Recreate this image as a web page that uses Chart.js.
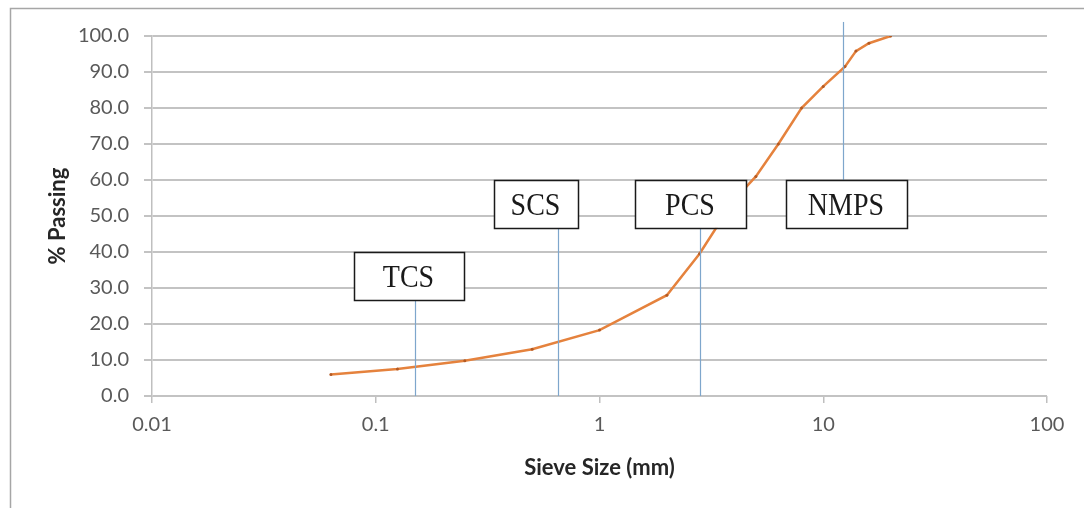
<!DOCTYPE html>
<html>
<head>
<meta charset="utf-8">
<script src="https://cdn.jsdelivr.net/npm/chart.js@4.4.1/dist/chart.umd.min.js"></script>
<style>
html,body{margin:0;padding:0;background:#fff;}
#wrap{width:1084px;height:508px;position:relative;}
</style>
</head>
<body>
<div id="wrap"><canvas id="c" width="1084" height="508"></canvas></div>
<script>
// ---- data ----
const sieveSizes = [0.063, 0.125, 0.25, 0.5, 1, 2, 2.8, 4, 5, 6.3, 8, 10, 12.5, 14, 16, 20];
const percentPassing = [6.0, 7.5, 9.8, 13.0, 18.3, 28.0, 39.5, 54.5, 61.0, 70.0, 80.0, 86.0, 91.5, 95.8, 98.0, 100.0];
const xTickValues = [0.01, 0.1, 1, 10, 100];
const xTickLabels = ['0.01', '0.1', '1', '10', '100'];
const markerLabels = ['TCS', 'SCS', 'PCS', 'NMPS'];
const markerSizes = [0.15, 0.65, 2.8, 12.3];

// box styling (pixel offsets / widths, value-space top & bottom)
const boxStyle = [
  {dx: -7, w: 110, top: 40.0, bottom: 26.7, lineFrom: 'box', lineTo: 'axis'},
  {dx: -23, w: 84, top: 60.0, bottom: 46.7, lineFrom: 'box', lineTo: 'axis'},
  {dx: -10.5, w: 111, top: 60.0, bottom: 46.7, lineFrom: 'box', lineTo: 'axis'},
  {dx: 2.5, w: 121, top: 60.0, bottom: 46.7, lineFrom: 'top', lineTo: 'box'}
];

const points = sieveSizes.map((s, i) => ({x: s, y: percentPassing[i]}));

const overlay = {
  id: 'overlay',
  afterDraw(chart) {
    const ctx = chart.ctx;
    const xs = chart.scales.x, ys = chart.scales.y;
    ctx.save();
    // outer frame
    ctx.strokeStyle = '#a6a6a6';
    ctx.lineWidth = 1.5;
    ctx.beginPath();
    ctx.moveTo(10.5, 508); ctx.lineTo(10.5, 8.5); ctx.lineTo(1084, 8.5);
    ctx.stroke();
    // marker lines and boxes
    markerLabels.forEach((lab, i) => {
      const st = boxStyle[i];
      const px = Math.round(xs.getPixelForValue(markerSizes[i])) + 0.5;
      const bt = ys.getPixelForValue(st.top);
      const bb = ys.getPixelForValue(st.bottom);
      const axisY = ys.getPixelForValue(0);
      ctx.strokeStyle = '#7ea6cc';
      ctx.lineWidth = 1.2;
      ctx.beginPath();
      if (st.lineTo === 'axis') { ctx.moveTo(px, bb); ctx.lineTo(px, axisY); }
      else { ctx.moveTo(px, ys.getPixelForValue(103.9)); ctx.lineTo(px, bt); }
      ctx.stroke();
      const cx = px + st.dx;
      const left = Math.round(cx - st.w / 2) + 0.5;
      ctx.fillStyle = '#ffffff';
      ctx.fillRect(left, bt, st.w, bb - bt);
      ctx.strokeStyle = '#1a1a1a';
      ctx.lineWidth = 1.5;
      ctx.strokeRect(left, Math.round(bt) + 0.5, st.w, Math.round(bb - bt));
      ctx.save();
      ctx.translate(cx, (bt + bb) / 2 + 3);
      ctx.scale(1, 1.13);
      ctx.fillStyle = '#1a1a1a';
      ctx.font = '28px "Liberation Serif", "Times New Roman", serif';
      ctx.textAlign = 'center';
      ctx.textBaseline = 'middle';
      ctx.fillText(lab, 0, 0);
      ctx.restore();
    });
    ctx.restore();
  }
};

new Chart(document.getElementById('c'), {
  type: 'line',
  data: {
    datasets: [{
      data: points,
      borderColor: '#e5823d',
      borderWidth: 2.5,
      pointRadius: 1.5,
      pointBackgroundColor: '#b35a24',
      pointBorderWidth: 0,
      tension: 0,
      fill: false
    }]
  },
  options: {
    responsive: false,
    animation: false,
    devicePixelRatio: 1,
    layout: {padding: {top: 36, right: 37, left: 0, bottom: 0}},
    plugins: {legend: {display: false}, tooltip: {enabled: false}},
    scales: {
      x: {
        type: 'logarithmic',
        min: 0.01, max: 100,
        afterBuildTicks(scale) { scale.ticks = xTickValues.map(v => ({value: v, major: true})); },
        afterFit(scale) { scale.height = 112; },
        ticks: {
          autoSkip: false, maxRotation: 0,
          color: '#595959',
          font: {family: 'Lato', size: 20},
          padding: 10,
          callback(v) { const i = xTickValues.indexOf(v); return i >= 0 ? xTickLabels[i] : ''; }
        },
        grid: {display: true, drawOnChartArea: false, drawTicks: true, tickLength: 7, color: '#bfbfbf', lineWidth: 1.5},
        border: {display: false},
        title: {display: true, text: 'Sieve Size (mm)', color: '#262626',
          font: {family: 'Lato', size: 22, weight: 'bold'}, padding: {top: 0, bottom: 27}}
      },
      y: {
        min: 0, max: 100,
        afterFit(scale) { scale.width = 152; },
        ticks: {
          stepSize: 10, color: '#595959',
          font: {family: 'Lato', size: 20},
          padding: 15,
          callback(v) { return Number(v).toFixed(1); }
        },
        grid: {color: '#c3c3c3', lineWidth: 2, tickLength: 8, drawTicks: true},
        border: {display: true, color: '#bfbfbf', width: 1.5},
        title: {display: true, text: '% Passing', color: '#262626',
          font: {family: 'Lato', size: 22, weight: 'bold'}, padding: {top: 45, bottom: 0}}
      }
    }
  },
  plugins: [overlay]
});
</script>
</body>
</html>
